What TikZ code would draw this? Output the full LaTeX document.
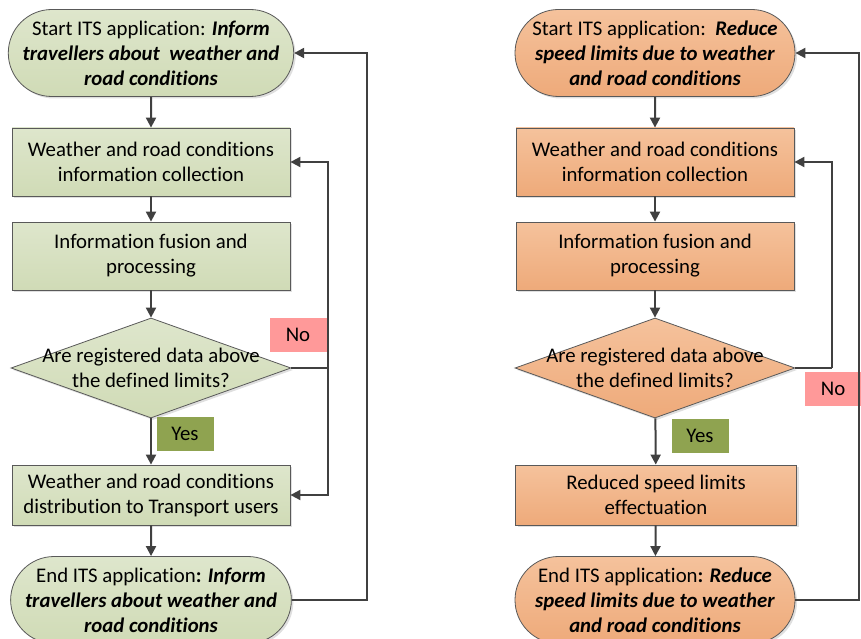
\documentclass[tikz,border=0pt]{standalone}
\usepackage{fontspec}
\setmainfont{Carlito}[Ligatures=NoCommon]
\usetikzlibrary{shapes.misc,shapes.geometric,arrows.meta,shadows}

\definecolor{edgegray}{HTML}{595959}
\definecolor{linegray}{HTML}{404040}
\definecolor{greentop}{HTML}{DEE6CC}
\definecolor{greenbot}{HTML}{D0DBB6}
\definecolor{orangetop}{HTML}{F5C29C}
\definecolor{orangebot}{HTML}{EEAA7A}
\definecolor{nopink}{HTML}{FF9999}
\definecolor{yesgreen}{HTML}{8FA350}

\tikzset{
  base/.style={draw=edgegray, line width=0.8pt, align=center, inner sep=0pt,
    font=\fontsize{20.8}{25}\selectfont,
    drop shadow={opacity=0.25, shadow xshift=2pt, shadow yshift=-2pt}},
  green/.style={top color=greentop, bottom color=greenbot},
  orange/.style={top color=orangetop, bottom color=orangebot},
  term/.style={base, rounded rectangle, minimum width=280pt, minimum height=87pt},
  stepbox/.style={base, rectangle, minimum width=278pt, minimum height=68pt},
  decision/.style={base, diamond, minimum width=280pt, minimum height=100pt, aspect=2.8},
  plain/.style={align=center, inner sep=0pt, font=\fontsize{20.8}{25}\selectfont},
  tag/.style={minimum width=57pt, minimum height=34pt, inner sep=0pt,
    font=\fontsize{20.8}{25}\selectfont},
  line/.style={draw=linegray, line width=2pt},
  arr/.style={line, -{Triangle[length=10pt,width=10pt]}}
}

\begin{document}
\begin{tikzpicture}[x=1pt,y=-1pt]
\useasboundingbox (0,0) rectangle (861,639);

% left flow: inform travellers
\node[term,green] (startL) at (151,53) {Start ITS application: \textbf{\textit{Inform}}\\\textbf{\textit{travellers about\ \ weather and}}\\\textbf{\textit{road conditions}}};
\node[stepbox,green] (colL) at (151,162) {Weather and road conditions\\information collection};
\node[stepbox,green] (fusL) at (151,256) {Information fusion and\\processing};
\node[decision,green] (decL) at (151,368) {};
\node[plain] (decLtxt) at (151,368) {Are registered data above\\the defined limits?};
\node[stepbox,green,minimum height=60pt] (disL) at (151,495) {Weather and road conditions\\distribution to Transport users};
\node[term,green] (endL) at (151,600) {End ITS application\textbf{: \textit{Inform}}\\\textbf{\textit{travellers about weather and}}\\\textbf{\textit{road conditions}}};

\node[tag,fill=yesgreen] (yesL) at (185,434) {Yes};
\node[tag,fill=nopink] (noL) at (298,335) {No};

\coordinate (nL) at (328,368);
\coordinate (oL) at (367,0);

\draw[arr] (startL) -- (colL);
\draw[arr] (colL) -- (fusL);
\draw[arr] (fusL) -- (decL);
\draw[arr] (decL) -- (disL);
\draw[arr] (disL) -- (endL);
\draw[line] (decL.east) -- (nL);
\draw[arr] (nL) |- (colL.east);
\draw[arr] (nL) |- (disL.east);
\draw[arr] (endL.east) -- (endL.east -| oL) |- (startL.east);

% right flow: reduce speed limits
\node[term,orange] (startR) at (655,53) {Start ITS application:\ \ \textbf{\textit{Reduce}}\\\textbf{\textit{speed limits due to weather}}\\\textbf{\textit{and road conditions}}};
\node[stepbox,orange] (colR) at (655,162) {Weather and road conditions\\information collection};
\node[stepbox,orange] (fusR) at (655,256) {Information fusion and\\processing};
\node[decision,orange] (decR) at (655,368) {};
\node[plain] (decRtxt) at (655,368) {Are registered data above\\the defined limits?};
\node[stepbox,orange,minimum width=281pt,minimum height=60pt] (effR) at (656,495) {Reduced speed limits\\effectuation};
\node[term,orange] (endR) at (655,600) {End ITS application\textbf{: \textit{Reduce}}\\\textbf{\textit{speed limits due to weather}}\\\textbf{\textit{and road conditions}}};

\node[tag,fill=yesgreen] (yesR) at (700,436) {Yes};
\node[tag,fill=nopink] (noR) at (833,389) {No};

\coordinate (nR) at (832,368);
\coordinate (oR) at (859,0);

\draw[arr] (startR) -- (colR);
\draw[arr] (colR) -- (fusR);
\draw[arr] (fusR) -- (decR);
\draw[arr] (decR) -- (effR);
\draw[arr] (effR) -- (endR);
\draw[line] (decR.east) -- (nR);
\draw[arr] (nR) |- (colR.east);
\draw[arr] (endR.east) -- (endR.east -| oR) |- (startR.east);
\end{tikzpicture}
\end{document}
